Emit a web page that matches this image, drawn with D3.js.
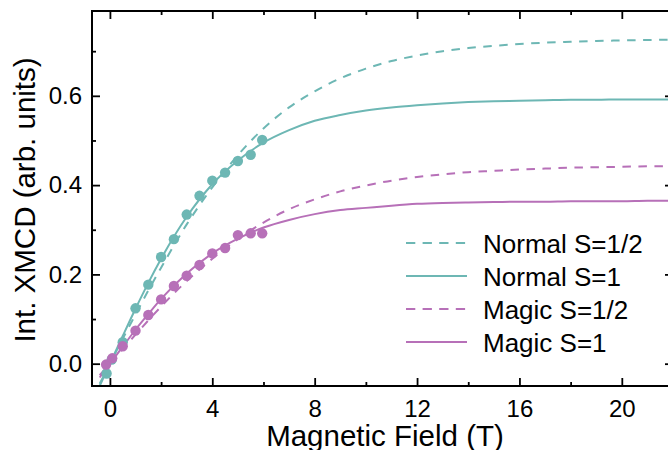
<!DOCTYPE html>
<html>
<head>
<meta charset="utf-8">
<script src="https://cdn.jsdelivr.net/npm/d3@7/dist/d3.min.js"></script>
<style>
  html, body { margin: 0; padding: 0; background: #fff; }
  svg { display: block; font-family: "Liberation Sans", Arial, sans-serif; }
</style>
</head>
<body>
<svg id="chart" width="668" height="450"></svg>
<script>
// ---- data ----
const normalField = [-0.13, 0.07, 0.5, 1.0, 1.5, 2.0, 2.5, 3.0, 3.5, 4.0, 4.5, 5.0, 5.5, 5.95];
const normalXMCD  = [-0.022, 0.009, 0.048, 0.124, 0.177, 0.239, 0.279, 0.334, 0.376, 0.410, 0.428, 0.454, 0.468, 0.501];
const magicField  = [-0.15, 0.09, 0.5, 1.0, 1.5, 2.0, 2.5, 3.0, 3.5, 4.0, 4.5, 5.0, 5.5, 5.95];
const magicXMCD   = [-0.002, 0.012, 0.039, 0.074, 0.109, 0.144, 0.174, 0.197, 0.221, 0.247, 0.259, 0.288, 0.292, 0.292];

const fitField       = [-0.4, 0, 0.5, 1, 1.5, 2, 3, 4, 5, 6, 7, 8, 9, 10, 11, 12, 13, 14, 15, 16, 17, 18, 19, 20, 21, 22];
const fitNormalHalf  = [-0.045, 0, 0.056, 0.110, 0.164, 0.215, 0.312, 0.395, 0.467, 0.527, 0.574, 0.610, 0.639, 0.661, 0.678, 0.690, 0.700, 0.707, 0.712, 0.716, 0.719, 0.721, 0.723, 0.724, 0.725, 0.726];
const fitNormalOne   = [-0.050, 0, 0.062, 0.123, 0.181, 0.235, 0.329, 0.402, 0.455, 0.495, 0.523, 0.544, 0.557, 0.567, 0.574, 0.579, 0.583, 0.586, 0.588, 0.589, 0.590, 0.591, 0.591, 0.592, 0.592, 0.592];
const fitMagicHalf   = [-0.026, 0, 0.033, 0.065, 0.097, 0.128, 0.185, 0.235, 0.279, 0.316, 0.346, 0.368, 0.386, 0.399, 0.410, 0.418, 0.424, 0.429, 0.432, 0.435, 0.437, 0.439, 0.440, 0.441, 0.442, 0.442];
const fitMagicOne    = [-0.031, 0, 0.038, 0.076, 0.111, 0.145, 0.202, 0.247, 0.280, 0.305, 0.322, 0.335, 0.344, 0.349, 0.354, 0.358, 0.360, 0.361, 0.362, 0.363, 0.363, 0.364, 0.364, 0.364, 0.365, 0.365];

const seriesNames = ["Normal S=1/2", "Normal S=1", "Magic S=1/2", "Magic S=1"];
const xMajorTicks = [0, 4, 8, 12, 16, 20];
const xMinorTicks = [2, 6, 10, 14, 18];
const yMajorTicks = [0.0, 0.2, 0.4, 0.6];
const yMinorTicks = [0.1, 0.3, 0.5, 0.7];
const xTitle = "Magnetic Field (T)";
const yTitle = "Int. XMCD (arb. units)";

const TEAL = "#6db7b4";
const PURPLE = "#b770b8";

// ---- layout ----
const L = 92, R = 673, T = 11, B = 386;
const svg = d3.select("#chart");

const x = d3.scaleLinear().domain([-0.7, 22]).range([L, R]);
const y = d3.scaleLinear().domain([-0.05, 0.79]).range([B, T]);

svg.append("defs").append("clipPath").attr("id", "plotclip")
  .append("rect").attr("x", L).attr("y", T).attr("width", R - L).attr("height", B - T);

const plot = svg.append("g").attr("clip-path", "url(#plotclip)");

const line = d3.line().x(d => x(d[0])).y(d => y(d[1])).curve(d3.curveMonotoneX);

const fits = [
  { vals: fitNormalHalf, color: TEAL, dash: "8.5,7.5" },
  { vals: fitNormalOne, color: TEAL, dash: null },
  { vals: fitMagicHalf, color: PURPLE, dash: "8.5,7.5" },
  { vals: fitMagicOne, color: PURPLE, dash: null }
];

fits.forEach(f => {
  plot.append("path")
    .datum(fitField.map((fx, i) => [fx, f.vals[i]]))
    .attr("d", line)
    .attr("fill", "none")
    .attr("stroke", f.color)
    .attr("stroke-width", 2)
    .attr("stroke-dasharray", f.dash);
});

plot.selectAll("circle.normal")
  .data(normalField.map((fx, i) => [fx, normalXMCD[i]]))
  .join("circle").attr("class", "normal")
  .attr("cx", d => x(d[0])).attr("cy", d => y(d[1])).attr("r", 5.2)
  .attr("fill", TEAL);

plot.selectAll("circle.magic")
  .data(magicField.map((fx, i) => [fx, magicXMCD[i]]))
  .join("circle").attr("class", "magic")
  .attr("cx", d => x(d[0])).attr("cy", d => y(d[1])).attr("r", 5.2)
  .attr("fill", PURPLE);

// ---- axes ----
function styleAxis(g) {
  g.select(".domain").remove();
  g.selectAll(".tick line").attr("stroke", "#000").attr("stroke-width", 1.8);
  g.selectAll(".tick text").attr("fill", "#000");
}

svg.append("g").attr("transform", `translate(0,${B})`)
  .call(d3.axisBottom(x).tickValues(xMajorTicks).tickSize(-8).tickPadding(14).tickFormat(d3.format("d")))
  .call(styleAxis)
  .selectAll("text").attr("font-size", 24).attr("font-family", "Liberation Sans, Arial, sans-serif");
svg.append("g").attr("transform", `translate(0,${B})`)
  .call(d3.axisBottom(x).tickValues(xMinorTicks).tickSize(-4).tickFormat(""))
  .call(styleAxis);
svg.append("g").attr("transform", `translate(0,${T})`)
  .call(d3.axisTop(x).tickValues(xMajorTicks).tickSize(-8).tickFormat(""))
  .call(styleAxis);
svg.append("g").attr("transform", `translate(0,${T})`)
  .call(d3.axisTop(x).tickValues(xMinorTicks).tickSize(-4).tickFormat(""))
  .call(styleAxis);

svg.append("g").attr("transform", `translate(${L},0)`)
  .call(d3.axisLeft(y).tickValues(yMajorTicks).tickSize(-8).tickPadding(10).tickFormat(d3.format(".1f")))
  .call(styleAxis)
  .selectAll("text").attr("font-size", 24).attr("font-family", "Liberation Sans, Arial, sans-serif");
svg.append("g").attr("transform", `translate(${L},0)`)
  .call(d3.axisLeft(y).tickValues(yMinorTicks).tickSize(-4).tickFormat(""))
  .call(styleAxis);
svg.append("g").attr("transform", `translate(${R},0)`)
  .call(d3.axisRight(y).tickValues(yMajorTicks).tickSize(-8).tickFormat(""))
  .call(styleAxis);
svg.append("g").attr("transform", `translate(${R},0)`)
  .call(d3.axisRight(y).tickValues(yMinorTicks).tickSize(-4).tickFormat(""))
  .call(styleAxis);

svg.append("rect").attr("x", L).attr("y", T).attr("width", R - L).attr("height", B - T)
  .attr("fill", "none").attr("stroke", "#000").attr("stroke-width", 2);

// titles
svg.append("text").attr("x", 385).attr("y", 446).attr("text-anchor", "middle")
  .attr("font-size", 29.5).attr("fill", "#000").text(xTitle);
svg.append("text").attr("transform", "translate(35,200) rotate(-90)").attr("text-anchor", "middle")
  .attr("font-size", 29.5).attr("fill", "#000").text(yTitle);

// legend
const legendRows = [243, 276, 309, 342];
const lg = svg.append("g");
seriesNames.forEach((name, i) => {
  const f = fits[i];
  lg.append("line").attr("x1", 406).attr("x2", 467)
    .attr("y1", legendRows[i]).attr("y2", legendRows[i])
    .attr("stroke", f.color).attr("stroke-width", 2)
    .attr("stroke-dasharray", f.dash ? "9.3,7.3" : null);
  lg.append("text").attr("x", 483).attr("y", legendRows[i] + 9.5)
    .attr("font-size", 26).attr("fill", "#000").text(name);
});
</script>
</body>
</html>
